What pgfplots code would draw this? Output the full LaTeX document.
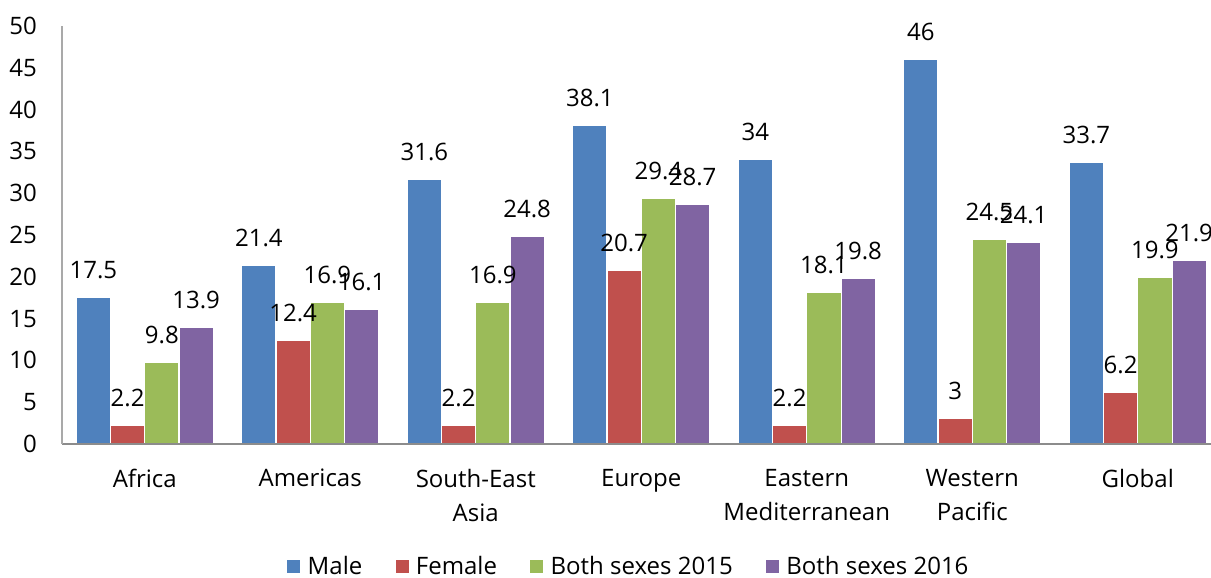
\documentclass[border=0pt]{standalone}
\usepackage{fontspec}
\setmainfont{Open Sans}
\usepackage{pgfplots}
\usepackage{pgfplotstable}
\pgfplotsset{compat=1.18}

\definecolor{male}{HTML}{4F81BD}
\definecolor{female}{HTML}{C0504D}
\definecolor{bsa}{HTML}{9BBB59}
\definecolor{bsb}{HTML}{8064A2}
\definecolor{axisgray}{HTML}{8C8C8C}

% values per region, x = category index
\pgfplotstableread{
x male female bsa bsb
0 17.5 2.2  9.8  13.9
1 21.4 12.4 16.9 16.1
2 31.6 2.2  16.9 24.8
3 38.1 20.7 29.4 28.7
4 34   2.2  18.1 19.8
5 46   3    24.5 24.1
6 33.7 6.2  19.9 21.9
}\rates

\newcommand{\lbl}{\fontsize{18}{21.6}\selectfont}

\begin{document}
\begin{tikzpicture}
\useasboundingbox (-46.5pt,-100.5pt) rectangle (861.75pt,333pt);
\clip (-46.5pt,-100.5pt) rectangle (861.75pt,333pt);
\begin{axis}[
    at={(0,0)}, anchor=south west,
    scale only axis,
    width=868.9pt, height=313.5pt,
    xmin=-0.5, xmax=6.5,
    ymin=0, ymax=50,
    ytick={0,5,...,50},
    xtick={0,...,6},
    xticklabels={Africa,Americas,South-East\\Asia,Europe,Eastern\\Mediterranean,Western\\Pacific,Global},
    ybar=0pt, bar width=25.7pt,
    clip=false,
    axis on top,
    axis x line*=bottom, axis y line*=left,
    x axis line style={draw=axisgray, line width=1.4pt},
    y axis line style={draw=axisgray!75, line width=1.1pt},
    major tick length=0pt,
    tick style={draw=none},
    /pgf/number format/assume math mode=true,
    yticklabel style={font=\lbl, anchor=east, inner sep=0pt, xshift=-18.75pt},
    xticklabel style={font=\fontsize{18}{25.5}\selectfont, anchor=north, align=center, inner sep=0pt, yshift=-18.5pt},
    nodes near coords={\pgfmathprintnumber[assume math mode=true]{\pgfplotspointmeta}},
    every node near coord/.append style={font=\lbl, text=black, anchor=base, inner sep=0pt, yshift=14.25pt},
    legend columns=4,
    legend style={at={(0.4885,-0.292)}, anchor=center, draw=none, font=\lbl,
      inner sep=0pt, nodes={inner sep=0pt},
      /tikz/every odd column/.append style={column sep=5.5pt},
      /tikz/every even column/.append style={column sep=25pt}},
    legend image code/.code={\fill[#1,draw=none] (0pt,-5.2pt) rectangle (9.75pt,4.6pt);},
  ]
  \addplot[fill=male, draw=white, line width=0.8pt] table[x=x, y=male] {\rates};
  \addlegendentry{Male}
  \addplot[fill=female, draw=white, line width=0.8pt] table[x=x, y=female] {\rates};
  \addlegendentry{Female}
  \addplot[fill=bsa, draw=white, line width=0.8pt] table[x=x, y=bsa] {\rates};
  \addlegendentry{Both sexes 2015}
  \addplot[fill=bsb, draw=white, line width=0.8pt] table[x=x, y=bsb] {\rates};
  \addlegendentry{Both sexes 2016}
\end{axis}
\end{tikzpicture}
\end{document}
